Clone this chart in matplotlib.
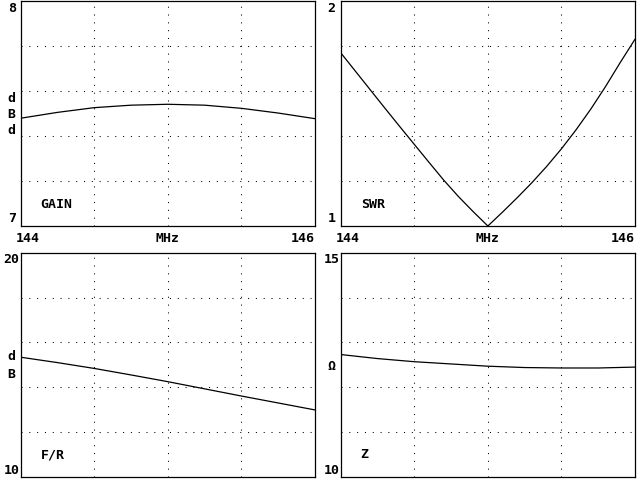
import matplotlib
matplotlib.use("Agg")
import matplotlib.pyplot as plt

# values
freq = [144.0, 144.25, 144.5, 144.75, 145.0, 145.25, 145.5, 145.75, 146.0]
gain = [7.479, 7.505, 7.526, 7.537, 7.541, 7.537, 7.523, 7.502, 7.477]
fr = [15.34, 15.10, 14.84, 14.55, 14.25, 13.93, 13.61, 13.30, 12.99]
z = [12.73, 12.64, 12.57, 12.52, 12.47, 12.44, 12.43, 12.43, 12.45]

swr_freq = [144.0, 144.1, 144.2, 144.3, 144.4, 144.5, 144.6, 144.7, 144.8, 144.9, 145.0,
            145.1, 145.2, 145.3, 145.4, 145.5, 145.6, 145.7, 145.8, 145.9, 146.0]
swr = [1.770, 1.688, 1.606, 1.524, 1.443, 1.363, 1.283, 1.204, 1.131, 1.064, 1.0,
       1.062, 1.126, 1.193, 1.265, 1.343, 1.428, 1.520, 1.620, 1.727, 1.830]

panels = [
    # name, x, y, ymin, ymax, unit letters
    ("GAIN", freq, gain, 7, 8, ["d", "B", "d"]),
    ("SWR", swr_freq, swr, 1, 2, []),
    ("F/R", freq, fr, 10, 20, ["d", "B"]),
    ("Z", freq, z, 10, 15, ["\u03a9"]),
]

W, H = 640, 480
fig = plt.figure(figsize=(6.4, 4.8), dpi=100, facecolor="white")
font = dict(family="DejaVu Sans Mono", fontweight="bold", fontsize=9.5, color="black")


def ftext(x, y, s, **kw):
    fig.text(x / W, 1 - y / H, s, **font, **kw)


boxes = [(20.7, 1, 294.3, 225), (340.7, 1, 294.3, 225),
         (20.7, 252.7, 294.3, 224.3), (340.7, 252.7, 294.3, 224.3)]
unit_y = [[99, 115, 131], [], [357, 375], [366]]

for i, (name, xs, ys, lo, hi, unit) in enumerate(panels):
    bx, by, bw, bh = boxes[i]
    ax = fig.add_axes([bx / W, 1 - (by + bh) / H, bw / W, bh / H])
    ax.plot(xs, ys, color="black", linewidth=0.9)
    ax.set_xlim(144, 146)
    ax.set_ylim(lo, hi)
    ax.set_xticks([144.5, 145, 145.5])
    ax.set_yticks([lo + (hi - lo) * k / 5 for k in range(1, 5)])
    ax.grid(True, color="black", linewidth=0.75, linestyle=(0, (1, 6.5)))
    ax.tick_params(length=0, labelbottom=False, labelleft=False)
    for sp in ax.spines.values():
        sp.set_linewidth(0.9)

    # axis texts
    ftext(bx - 9, by + 7, str(hi), ha="center", va="center")
    ftext(bx - 9, by + bh - 7, str(lo), ha="center", va="center")
    for s, uy in zip(unit, unit_y[i]):
        ftext(bx - 9, uy, s, ha="center", va="center")
    ftext(bx + 20, by + bh - 22, name, ha="left", va="center")
    if i < 2:
        ftext(bx - 5, 238, "144", ha="left", va="center")
        ftext(bx + bw / 2, 238, "MHz", ha="center", va="center")
        ftext(bx + bw, 238, "146", ha="right", va="center")

fig.savefig("out.png", dpi=100, facecolor="white")
